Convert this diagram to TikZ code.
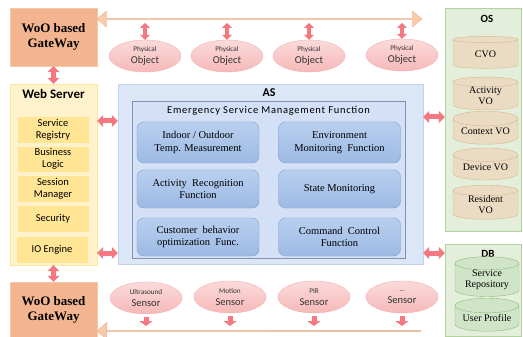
\documentclass[tikz,border=0pt]{standalone}
\usepackage{fontspec}
\setmainfont{Liberation Serif}
\setsansfont{Carlito}
\usetikzlibrary{arrows.meta,shapes.geometric,shapes.arrows}
\definecolor{gwfill}{HTML}{F3B590}
\definecolor{gwline}{HTML}{F7C8A8}
\definecolor{barfill}{HTML}{F8CBAD}
\definecolor{barline}{HTML}{F1B48C}
\definecolor{pinkar}{HTML}{F47880}
\definecolor{elltop}{HTML}{FBDADA}
\definecolor{ellbot}{HTML}{F6B9B9}
\definecolor{ellline}{HTML}{F2B0B0}
\definecolor{wsfill}{HTML}{FFF2CC}
\definecolor{wsline}{HTML}{FFE699}
\definecolor{wsin}{HTML}{FFE594}
\definecolor{asfill}{HTML}{DBE6F7}
\definecolor{asline}{HTML}{C3D4EE}
\definecolor{esfill}{HTML}{D3E0F5}
\definecolor{esline}{HTML}{8093B2}
\definecolor{fntop}{HTML}{B9CFEF}
\definecolor{fnbot}{HTML}{9CBAE4}
\definecolor{fnline}{HTML}{7F9DC9}
\definecolor{osfill}{HTML}{E3EFDA}
\definecolor{osline}{HTML}{B3D39E}
\definecolor{cylfill}{HTML}{EADBC2}
\definecolor{cylline}{HTML}{D6B98E}
\definecolor{dbcyl}{HTML}{D0E4C7}
\definecolor{dbcylline}{HTML}{8CBE78}
\definecolor{brown}{HTML}{9E7A5F}
\begin{document}
\begin{tikzpicture}[x=1pt,y=-1pt,font=\sffamily,
  gwbox/.style={draw=gwline,fill=gwfill,minimum width=87pt,inner sep=0pt,align=center,
    font=\rmfamily\bfseries\fontsize{13}{15}\selectfont},
  pa/.style={line width=5pt,draw=pinkar,{Triangle[length=6pt,width=12pt]}-{Triangle[length=6pt,width=12pt]}},
  pav/.style={line width=4pt,draw=pinkar,{Triangle[length=5pt,width=10pt]}-{Triangle[length=5pt,width=10pt]}},
  downar/.style={line width=5pt,draw=pinkar,-{Triangle[length=5pt,width=13pt]}},
  pell/.style={ellipse,draw=ellline,top color=elltop,bottom color=ellbot,minimum width=72pt,
    minimum height=32pt,inner sep=0pt,align=center,text=black!80},
  wsin/.style={draw=wsfill,fill=wsin,minimum width=72pt,minimum height=27pt,inner sep=0pt,
    align=center,font=\sffamily\fontsize{10.5}{12}\selectfont},
  fnbox/.style={draw=fnline,top color=fntop,bottom color=fnbot,rounded corners=7pt,
    minimum width=122pt,inner sep=0pt,align=center,font=\rmfamily\fontsize{10.5}{12.5}\selectfont},
  cyl/.style={cylinder,shape border rotate=90,aspect=0.3,draw=cylline,fill=cylfill,
    minimum width=65pt,inner sep=0pt,align=center,font=\rmfamily\fontsize{10}{11}\selectfont},
  dbc/.style={cyl,draw=dbcylline,fill=dbcyl,minimum width=64pt},
  ttl/.style={font=\sffamily\bfseries\fontsize{12}{14}\selectfont}]
\useasboundingbox (0,0) rectangle (523,337);

% gateways
\node[gwbox,minimum height=58pt] (gw1) at (53.5,37) {WoO based\\GateWay};
\node[gwbox,minimum height=56pt] (gw2) at (53.5,310) {WoO based\\GateWay};

% top and bottom bars
\node[double arrow,draw=barline,fill=barfill,minimum height=325pt,minimum width=16pt,
  double arrow head extend=4pt,double arrow tip angle=80,inner sep=0pt] (topar) at (259.5,19) {};
\node[single arrow,shape border rotate=180,draw=barline,left color=barfill,right color=brown,
  minimum height=324pt,minimum width=17pt,single arrow head extend=4.5pt,single arrow tip angle=80,
  inner sep=0pt] (botar) at (259,331) {};

% physical objects
\node[pell] (po1) at (145,56) {{\fontsize{7.2}{8}\selectfont Physical}\\{\fontsize{10.5}{11}\selectfont Object}};
\node[pell] (po2) at (227,56) {{\fontsize{7.2}{8}\selectfont Physical}\\{\fontsize{10.5}{11}\selectfont Object}};
\node[pell] (po3) at (309,56) {{\fontsize{7.2}{8}\selectfont Physical}\\{\fontsize{10.5}{11}\selectfont Object}};
\node[pell] (po4) at (402,55) {{\fontsize{7.2}{8}\selectfont Physical}\\{\fontsize{10.5}{11}\selectfont Object}};
\foreach \p in {po1,po2,po3,po4}{\draw[pav] (\p.north) -- (\p.north |- 0,23);}

% sensors
\node[pell] (s1) at (146,298) {{\fontsize{7.2}{8}\selectfont Ultrasound}\\{\fontsize{10.5}{11}\selectfont Sensor}};
\node[pell] (s2) at (230,297) {{\fontsize{7.2}{8}\selectfont Motion}\\{\fontsize{10.5}{11}\selectfont Sensor}};
\node[pell] (s3) at (314,297) {{\fontsize{7.2}{8}\selectfont PIR}\\{\fontsize{10.5}{11}\selectfont Sensor}};
\node[pell] (s4) at (402,297) {{\fontsize{7.2}{8}\selectfont ...}\\{\fontsize{10.5}{11}\selectfont Sensor}};
\foreach \s in {s1,s2,s3,s4}{\draw[downar,shorten <=3pt] (\s.south) -- (\s.south |- 0,326);}

% web server
\node[draw=wsline,fill=wsfill,minimum width=87pt,minimum height=181pt,inner sep=0pt] (ws) at (53.5,174.5) {};
\node[ttl,font=\sffamily\bfseries\fontsize{13}{14}\selectfont] (wst) at (53.5,94) {Web Server};
\node[wsin] (sr) at (53,129.5) {Service\\Registry};
\node[wsin,minimum height=26pt] (bl) at (53,159) {Business\\Logic};
\node[wsin] (sm) at (53,188.5) {Session\\Manager};
\node[wsin] (sec) at (53,218.5) {Security};
\node[wsin] (io) at (52,249.5) {IO Engine};

% AS
\node[draw=asline,fill=asfill,minimum width=305pt,minimum height=180pt,inner sep=0pt] (as) at (270.5,174) {};
\node[ttl] (ast) at (269,93) {AS};
\node[draw=esline,fill=esfill,minimum width=273pt,minimum height=157pt,inner sep=0pt] (es) at (268.5,179.5) {};
\node[font=\sffamily\fontsize{10.5}{12}\selectfont\addfontfeature{LetterSpace=7}] (est) at (268.5,111) {Emergency Service Management Function};
\node[fnbox,minimum height=41pt] (f1) at (198,142.5) {Indoor / Outdoor\\Temp. Measurement};
\node[fnbox,minimum height=41pt] (f2) at (339.5,142.5) {Environment\\Monitoring\ \ Function};
\node[fnbox,minimum height=38pt] (f3) at (198,189) {Activity\ \ Recognition\\Function};
\node[fnbox,minimum height=38pt] (f4) at (339.5,189) {State Monitoring};
\node[fnbox,minimum height=38pt] (f5) at (198,237) {Customer\ \ behavior\\optimization\ \ Func.};
\node[fnbox,minimum height=38pt] (f6) at (339.5,237) {Command\ \ Control\\Function};

% OS
\node[draw=osline,fill=osfill,minimum width=76pt,minimum height=223pt,inner sep=0pt] (os) at (483,119.5) {};
\node[ttl,font=\sffamily\bfseries\fontsize{11}{13}\selectfont] (ost) at (487,19) {OS};
\node[cyl,minimum height=32pt] (c1) at (485.5,54) {CVO};
\node[cyl,minimum height=32pt] (c2) at (485.5,96) {Activity\\VO};
\node[cyl,minimum height=33pt] (c3) at (485.5,131.5) {Context VO};
\node[cyl,minimum height=32pt] (c4) at (485.5,167.5) {Device VO};
\node[cyl,minimum height=34pt] (c5) at (485.5,205) {Resident\\VO};

% DB
\node[draw=osline,fill=osfill,minimum width=76pt,minimum height=92pt,inner sep=0pt] (db) at (483,290) {};
\node[ttl,font=\sffamily\bfseries\fontsize{11}{13}\selectfont] (dbt) at (488,254) {DB};
\node[dbc,minimum height=34pt] (d1) at (487,280) {Service\\Repository};
\node[dbc,minimum height=33pt] (d2) at (487,318.5) {User Profile};

% connectors
\draw[pa] (gw1.south) -- (ws.north);
\draw[pa] (ws.south) -- (gw2.north);
\draw[pa] (ws.east |- 0,121) -- (as.west |- 0,121);
\draw[pa] (ws.east |- 0,253) -- (as.west |- 0,253);
\draw[pa] (as.east |- 0,117) -- (os.west |- 0,117);
\draw[pa] (as.east |- 0,253) -- (db.west |- 0,253);
\end{tikzpicture}
\end{document}
